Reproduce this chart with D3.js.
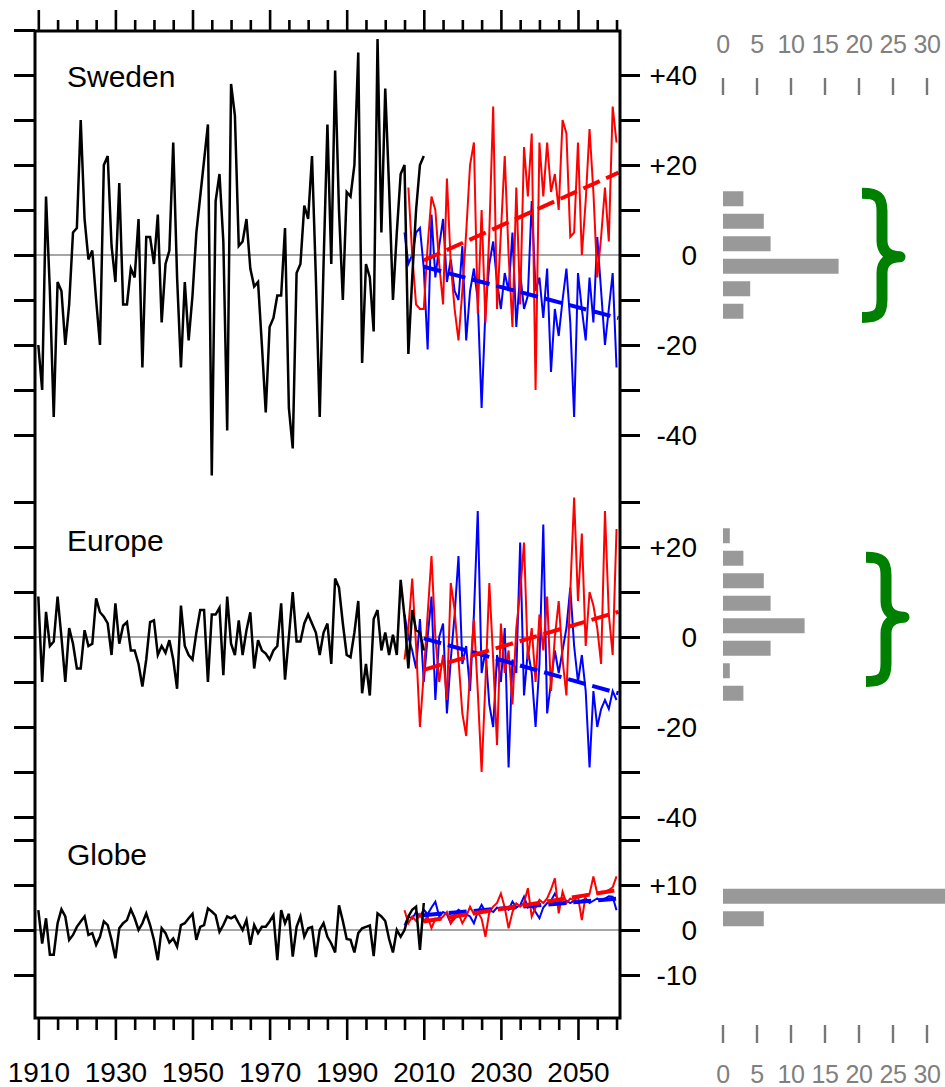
<!DOCTYPE html>
<html>
<head>
<meta charset="utf-8">
<script src="https://cdnjs.cloudflare.com/ajax/libs/d3/7.8.5/d3.min.js"></script>
<style>
body{margin:0;background:#fff;}
text{font-family:"Liberation Sans",Arial,Helvetica,sans-serif;}
</style>
</head>
<body>
<div class="chart"></div>
<script>
//Data (anomalies, per year)
const OBS_START = 1910;
const swedenObs = [-20,-30,13,-8,-36,-6,-8,-20,-11,5, 6,30,8,-1,1,-10,-20,20,22,2,
	-6,16,-11,-11,-3,-5,8,-25,4,4, -2,9,-15,-2,1,25,-5,-25,-6,-19,
	-9,5,13,21,29,-49,12,18,3,-39, 38,31,2,3,8,-3,-7,-6,-20,-35,
	-16,-14,-9,-9,6,-34,-43,-4,-2,11, 8,22,-5,-36,-2,29,-2,41,10,-10,
	14,13,20,45,-24,-2,-5,-17,48,5, 37,15,-10,5,18,20,-22,-5,10,20, 22];
const europeObs = [9,-10,5.6,-2,-1,9,0,-10,2,-1.5, -7,-7,1.5,-2,-1.5,8.6,5.5,4.5,3,-4,
	7.5,-1.5,2.5,3.3,-3,-3,-6,-11,-5,3.3, 3.7,-4,-2,-3.5,-0.7,-5,-11.5,7,-2,-4,
	-5,1,6,6,-10,5,5,6.5,-8.5,9, -1.5,-4,3.7,-4,1.5,5.5,-7,-0.7,-3,-3.7,
	-5,-3,-2,7.5,-9.5,0,10,-1,-1,3, 5,3,1,-4,1,3,-6,13,11,3,
	-4,-4.5,1,8,-12.5,-6,-13,4,6,-3, 1,-4,0.5,-4,12.7,4.5,-7,6,1.5,1, -3];
const globeObs = [4.4,-3,2.6,-5.5,-5.5,1.5,4.6,3,-2.2,-1.1, 0.7,1.9,3,-1.1,-0.7,-3.3,-1.5,1.9,1.1,-2.2,
	-6.3,0.4,1.5,2.2,4.6,2.6,0,1.5,3.7,1.1, -2.2,-6.7,0.4,-0.7,-2.8,-1.9,-3.7,1.1,1.5,2.6,
	3.6,-2.2,0.7,1.1,4.8,4.1,3.3,-0.4,1.1,3, 2.6,3.1,1.5,0,2.2,-3.3,1.1,-0.7,0.7,0.7,
	1.9,3.3,-6.7,4.4,1.5,3.6,-5.9,0.7,3,-1.5, 0.4,0.7,-6,0,1.5,-1.5,-3,-5,5.5,2,
	-2,-2.2,-5,-0.7,0.4,0.7,1,-5.8,3.7,3, 2,-2,-5,0,-1.5,0,3,4.5,5.2,-4.4, 6];

const PROJ_START = 2005;
const swedenRed = [null,15,0,-11,-12,-12,2,13,10,-2, -11,17,-2,-12,-19,-8,5,20,25,-13,
	10,-15,5,33,-12,5,22,0,-16,15, -11,24,13,27,-30,25,13,25,14,18,
	10,30,27,4,5,25,0,12,28,14, -5,4,15,3,33,25];
const swedenBlue = [5,-2,0,5,6,-3,-21,9,-5,2, 8,-6,-1,-8,-10,2,-19,-8,-3,-10,
	-34,-12,-2,3,-6,-12,-4,-8,5,-16, -4,-12,-9,12,-8,-5,-14,-3,-26,-12,
	-18,-10,-3,-15,-36,-4,-12,-19,-5,-15, 4,-8,-20,-12,-4,-25];
const europeRed = [-5,2,13,-2,-20,-8,5,18,0,-10, -4,-14,12,6,-5,-17,-22,-8,4,-12,
	-30,-10,12,-5,-24,3,-8,-3,-15,2, 10,21,-5,2,-10,5,-3,9,-12,0,
	8,-5,-13,10,31,8,23,-2,10,7, 2,-6,28,5,-4,24];
const europeBlue = [5,0,-3,-7,4,-10,0,9,-14,0, 3,-17,-5,5,18,-6,-2,-12,5,28,
	-8,-3,-15,-20,-4,-10,2,-29,-5,-8, 21,-13,-3,-8,-20,-6,25,-17,-10,-3,
	-8,-3,2,11,-2,-10,-4,-12,-29,-12, -20,-16,-14,-16,-12,-14];
const globeRed = [4.4,1.5,3,2,3.5,2,3,0.4,2.5,2.2, 3,4,1.5,2.5,3.7,1.5,3,5.2,3.5,4,
	2.5,-1.5,4,5.2,6,8.1,5,0.4,4,5.9, 5.2,6,9.3,3,5,6.7,6,7,9,11.5,
	3.7,8.5,6,7,6.5,7.4,2.2,7.8,8,11.9, 8.1,8.5,8.5,8.9,9.5,11.9];
const globeBlue = [1,3,2.5,4,3,4.5,3.5,5,6.3,3, 4,3.5,1.5,3.5,4.5,4,3.5,3,1.5,4,
	5.6,4,4.5,4,5,4.5,5,4.5,6.3,5, 5.5,7.4,5,5.5,4,2.6,5,6,6.5,8.1,
	6.5,6,6.5,6,6.5,6,6.5,7,6,6.5, 7,6.5,7,7.5,7.4,4.4];

//Trend lines (start, end)
const TREND_YEARS = [2010, 2060.5];
const swedenRedTrend = [-1.2, 18.3];
const swedenBlueTrend = [-2.6, -14];
const europeRedTrend = [-7.3, 5.6];
const europeBlueTrend = [-0.3, -12.5];
const globeRedTrend = [1.9, 8.9];
const globeBlueTrend = [3.3, 7.0];

//Histograms: lower bin edges (bin width 5) and counts
const swedenBins = [10,5,0,-5,-10,-15];
const swedenCounts = [3,6,7,17,4,3];
const europeBins = [20,15,10,5,0,-5,-10,-15];
const europeCounts = [1,3,6,7,12,7,1,3];
const globeBins = [5,0];
const globeCounts = [34,6];
const HIST_TICKS = [0,5,10,15,20,25,30];

const YEAR_LABELS = [1910,1930,1950,1970,1990,2010,2030,2050];

//Prep work
const W = 945, H = 1087;
const frame = {l:35, r:620, t:31, b:1018};

const svg = d3.select('.chart')
	.append('svg')
		.attr('width', W)
		.attr('height', H);

const x = d3.scaleLinear().domain([1909.14, 2060.9]).range([frame.l, frame.r]);
const hx = d3.scaleLinear().domain([0, 30]).range([723, 927]);

const panels = [
	{name:'Sweden', domain:[-50,50], range:[480,30], labelY:87,
		left:d3.range(-40,51,10), right:d3.range(-40,41,10), labels:[40,20,0,-20,-40],
		obs:swedenObs, red:swedenRed, blue:swedenBlue, redTrend:swedenRedTrend, blueTrend:swedenBlueTrend,
		bins:swedenBins, counts:swedenCounts, brace:[-13.9,-0.4,13.7], braceX:862},
	{name:'Europe', domain:[-40,30], range:[817,502], labelY:551,
		left:d3.range(-40,31,10), right:d3.range(-40,31,10), labels:[20,0,-20,-40],
		obs:europeObs, red:europeRed, blue:europeBlue, redTrend:europeRedTrend, blueTrend:europeBlueTrend,
		bins:europeBins, counts:europeCounts, brace:[-9.9,4.4,17.7], braceX:866},
	{name:'Globe', domain:[-20,20], range:[1020,840], labelY:865,
		left:d3.range(-10,21,10), right:d3.range(-10,21,10), labels:[10,0,-10],
		obs:globeObs, red:globeRed, blue:globeBlue, redTrend:globeRedTrend, blueTrend:globeBlueTrend,
		bins:globeBins, counts:globeCounts, brace:null}
];

function fmt(v){
	return v > 0 ? '+' + v : String(v);
}

panels.forEach(function(p){
	const y = d3.scaleLinear().domain(p.domain).range(p.range);
	const g = svg.append('g').attr('class','panel');

	//zero line
	g.append('line')
		.attr('x1', frame.l).attr('x2', frame.r)
		.attr('y1', y(0)).attr('y2', y(0))
		.style('stroke', '#888').style('stroke-width', 1.3);

	const line = d3.line()
		.defined(function(d){return d.v !== null;})
		.x(function(d){return x(d.year);})
		.y(function(d){return y(d.v);});

	const toSeries = function(arr, start){
		return arr.map(function(v, i){return {year:start + i, v:v};});
	};

	g.append('path').datum(toSeries(p.blue, PROJ_START))
		.attr('d', line)
		.style('fill','none').style('stroke','#0000ff').style('stroke-width', 2);
	g.append('path').datum(toSeries(p.red, PROJ_START))
		.attr('d', line)
		.style('fill','none').style('stroke','#ff0000').style('stroke-width', 2);
	g.append('path').datum(toSeries(p.obs, OBS_START))
		.attr('d', line)
		.style('fill','none').style('stroke','#000').style('stroke-width', 2.5);

	[[p.blueTrend,'#0000ff'],[p.redTrend,'#ff0000']].forEach(function(t){
		g.append('line')
			.attr('x1', x(TREND_YEARS[0])).attr('x2', x(TREND_YEARS[1]))
			.attr('y1', y(t[0][0])).attr('y2', y(t[0][1]))
			.style('stroke', t[1]).style('stroke-width', 4)
			.style('stroke-dasharray', '18,7');
	});

	//panel label
	g.append('text')
		.attr('x', 67).attr('y', p.labelY)
		.style('font-size', '30px')
		.text(p.name);

	//left ticks
	const leftAxis = g.append('g')
		.attr('transform', `translate(${frame.l},0)`)
		.call(d3.axisLeft(y).tickValues(p.left).tickSize(21).tickFormat(''));
	leftAxis.select('.domain').remove();
	leftAxis.selectAll('line').style('stroke-width', 3);

	//right ticks + labels
	const rightAxis = g.append('g')
		.attr('transform', `translate(${frame.r},0)`)
		.call(d3.axisRight(y).tickValues(p.right).tickSize(20)
			.tickFormat(function(d){return p.labels.indexOf(d) >= 0 ? fmt(d) : '';}));
	rightAxis.select('.domain').remove();
	rightAxis.selectAll('line').style('stroke-width', 3);
	rightAxis.selectAll('text')
		.attr('x', 77).attr('text-anchor','end')
		.attr('dy', '0.35em')
		.style('font-size','28px').style('fill','#000')
		.style('font-family','"Liberation Sans",Arial,Helvetica,sans-serif');

	//histogram
	g.selectAll('.bar')
		.data(p.bins.map(function(b, i){return {lo:b, n:p.counts[i]};}))
		.enter().append('rect').attr('class','bar')
		.attr('x', hx(0))
		.attr('y', function(d){return y(d.lo + 5) + 3.75;})
		.attr('width', function(d){return hx(d.n) - hx(0);})
		.attr('height', function(d){return y(d.lo) - y(d.lo + 5) - 7.5;})
		.style('fill', '#999');

	//green brace
	if(p.brace){
		const x0 = p.braceX, xm = x0 + 20, xt = x0 + 38;
		const y0 = y(p.brace[2]), ym = y(p.brace[1]), y1 = y(p.brace[0]);
		const path = d3.path();
		path.moveTo(x0, y0);
		path.bezierCurveTo(x0 + 16, y0, xm, y0 + 4, xm, y0 + 18);
		path.lineTo(xm, ym - 16);
		path.bezierCurveTo(xm, ym - 6, xm + 6, ym, xt, ym);
		path.bezierCurveTo(xm + 6, ym, xm, ym + 6, xm, ym + 16);
		path.lineTo(xm, y1 - 18);
		path.bezierCurveTo(xm, y1 - 4, x0 + 16, y1, x0, y1);
		g.append('path')
			.attr('d', path.toString())
			.style('fill','none').style('stroke','#008000')
			.style('stroke-width', 11).style('stroke-linejoin','round');
	}
});

//frame
svg.append('rect')
	.attr('x', frame.l).attr('y', frame.t)
	.attr('width', frame.r - frame.l).attr('height', frame.b - frame.t)
	.style('fill','none').style('stroke','#000').style('stroke-width', 3);

//year axes, top and bottom
const minorYears = d3.range(1910, 2061, 5).filter(function(d){return (d - 1910) % 20 !== 0;});

function yearAxis(axisFn, ypos, majorSize, minorSize, labelled){
	const gMaj = svg.append('g').attr('transform', `translate(0,${ypos})`)
		.call(axisFn(x).tickValues(YEAR_LABELS).tickSize(majorSize)
			.tickFormat(labelled ? d3.format('d') : ''));
	const gMin = svg.append('g').attr('transform', `translate(0,${ypos})`)
		.call(axisFn(x).tickValues(minorYears).tickSize(minorSize).tickFormat(''));
	[gMaj, gMin].forEach(function(s){
		s.select('.domain').remove();
		s.selectAll('line').style('stroke-width', 2.6);
	});
	gMaj.selectAll('text')
		.attr('y', 64)
		.attr('dy', 0)
		.style('font-size','28px').style('fill','#000')
		.style('font-family','"Liberation Sans",Arial,Helvetica,sans-serif');
}
yearAxis(d3.axisTop, frame.t, 21, 11, false);
yearAxis(d3.axisBottom, frame.b, 22, 12, true);

//histogram count axes, top and bottom
function histAxis(tickY0, tickY1, labelY){
	const g = svg.append('g').attr('class','hist-axis');
	g.selectAll('line').data(HIST_TICKS).enter().append('line')
		.attr('x1', hx).attr('x2', hx)
		.attr('y1', tickY0).attr('y2', tickY1)
		.style('stroke','#777').style('stroke-width', 2.4);
	g.selectAll('text').data(HIST_TICKS).enter().append('text')
		.attr('x', hx).attr('y', labelY)
		.attr('text-anchor','middle')
		.style('font-size','25px').style('letter-spacing','-0.5px').style('fill','#808080')
		.text(function(d){return d;});
}
histAxis(78, 95, 53);
histAxis(1025, 1043, 1083);
</script>
</body>
</html>
